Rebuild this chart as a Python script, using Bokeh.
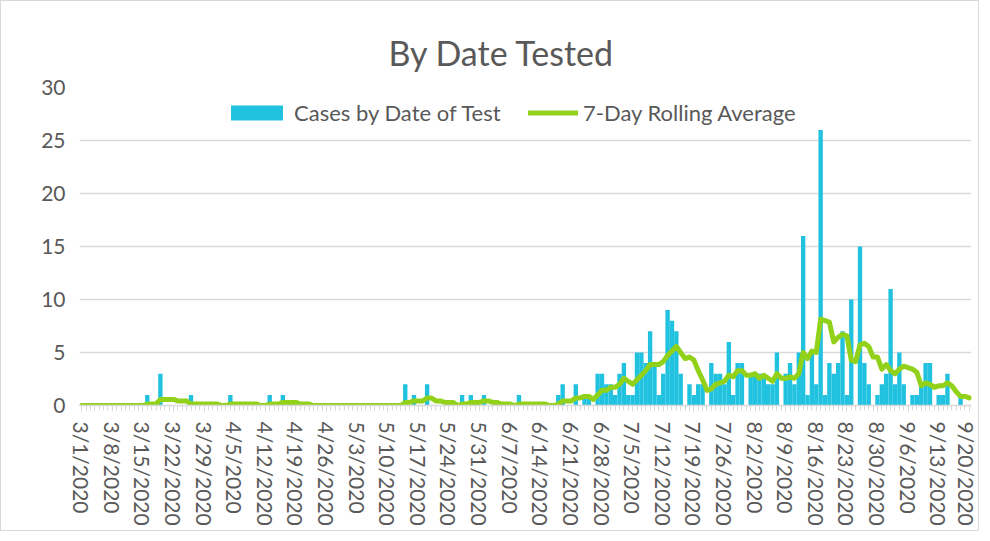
import pandas as pd
from bokeh.plotting import figure
from bokeh.models import ColumnDataSource, Range1d, FixedTicker, Legend, LegendItem
from bokeh.embed import file_html
from bokeh.resources import INLINE

# ---- data ----
dates = [f"{d.month}/{d.day}/{d.year}" for d in pd.date_range("2020-03-01", "2020-09-20")]

cases = [
    0, 0, 0, 0, 0, 0, 0,
    0, 0, 0, 0, 0, 0, 0,
    0, 1, 0, 0, 3, 0, 0,
    0, 0, 0, 0, 1, 0, 0,
    0, 0, 0, 0, 0, 0, 1,
    0, 0, 0, 0, 0, 0, 0,
    0, 1, 0, 0, 1, 0, 0,
    0, 0, 0, 0, 0, 0, 0,
    0, 0, 0, 0, 0, 0, 0,
    0, 0, 0, 0, 0, 0, 0,
    0, 0, 0, 0, 2, 0, 1,
    0, 0, 2, 0, 0, 0, 0,
    0, 0, 0, 1, 0, 1, 0,
    0, 1, 0, 0, 0, 0, 0,
    0, 0, 1, 0, 0, 0, 0,
    0, 0, 0, 0, 1, 2, 0,
    0, 2, 0, 1, 1, 0, 3,
    3, 2, 2, 1, 3, 4, 1,
    1, 5, 5, 4, 7, 4, 1,
    3, 9, 8, 7, 3, 0, 2,
    1, 2, 2, 0, 4, 3, 3,
    2, 6, 1, 4, 4, 0, 3,
    3, 3, 3, 2, 2, 5, 0,
    3, 4, 2, 5, 16, 1, 5,
    2, 26, 1, 4, 3, 4, 7,
    1, 10, 0, 15, 4, 2, 0,
    1, 2, 3, 11, 2, 5, 2,
    0, 1, 1, 2, 4, 4, 0,
    1, 1, 3, 0, 0, 1, 0,
    0,
]

rolling_avg = [
    0, 0, 0, 0, 0, 0, 0,
    0, 0, 0, 0, 0, 0, 0,
    0, 0.14, 0.14, 0.14, 0.57, 0.57, 0.57,
    0.57, 0.43, 0.43, 0.43, 0.14, 0.14, 0.14,
    0.14, 0.14, 0.14, 0.14, 0, 0, 0.14,
    0.14, 0.14, 0.14, 0.14, 0.14, 0.14, 0,
    0, 0.14, 0.14, 0.14, 0.29, 0.29, 0.29,
    0.29, 0.14, 0.14, 0.14, 0, 0, 0,
    0, 0, 0, 0, 0, 0, 0,
    0, 0, 0, 0, 0, 0, 0,
    0, 0, 0, 0, 0.29, 0.29, 0.43,
    0.43, 0.43, 0.71, 0.71, 0.43, 0.43, 0.29,
    0.29, 0.29, 0, 0.14, 0.14, 0.29, 0.29,
    0.29, 0.43, 0.43, 0.29, 0.29, 0.14, 0.14,
    0.14, 0, 0.14, 0.14, 0.14, 0.14, 0.14,
    0.14, 0.14, 0, 0, 0.14, 0.43, 0.43,
    0.43, 0.71, 0.71, 0.86, 0.86, 0.57, 1.0,
    1.43, 1.43, 1.71, 1.71, 2.0, 2.57, 2.29,
    2.0, 2.43, 2.86, 3.29, 3.86, 3.86, 3.86,
    4.14, 4.71, 5.14, 5.57, 5.0, 4.43, 4.57,
    4.29, 3.29, 2.43, 1.43, 1.57, 2.0, 2.14,
    2.29, 2.86, 2.71, 3.29, 3.29, 2.86, 2.86,
    3.0, 2.57, 2.86, 2.57, 2.29, 3.0, 2.57,
    2.57, 2.71, 2.57, 3.0, 5.0, 4.43, 5.14,
    5.0, 8.14, 8.0, 7.86, 6.0, 6.43, 6.71,
    6.57, 4.29, 4.14, 5.71, 5.86, 5.57, 4.57,
    4.57, 3.43, 3.86, 3.29, 3.0, 3.43, 3.71,
    3.57, 3.43, 3.14, 1.86, 2.14, 2.0, 1.71,
    1.86, 1.86, 2.14, 1.86, 1.29, 0.86, 0.86,
    0.71,
]

y_ticks = [0, 5, 10, 15, 20, 25, 30]
title_text = "By Date Tested"
bar_name = "Cases by Date of Test"
line_name = "7-Day Rolling Average"

# ---- styling ----
FONT = "Lato"
TEXT = "#595959"
GRID = "#d9d9d9"
BAR = "#21C2DF"
LINE = "#92D119"

day_idx = list(range(len(dates)))
week_idx = day_idx[::7]

src = ColumnDataSource(dict(i=day_idx, date=dates, cases=cases, avg=rolling_avg))

p = figure(
    x_range=Range1d(-0.5, len(dates) - 0.5),
    y_range=Range1d(0, 30),
    width=979, height=531,
    output_backend="svg", toolbar_location=None,
    min_border_left=78, min_border_right=9,
    min_border_top=86, min_border_bottom=127,
)
p.styles = {"border": "1px solid #d9d9d9"}
p.outline_line_color = None
p.background_fill_color = "white"
p.border_fill_color = "white"

r_bar = p.vbar(x="i", top="cases", width=1.0, source=src,
               fill_color=BAR, line_color=None)
r_line = p.line(x="i", y="avg", source=src, line_color=LINE,
                line_width=5, line_join="round", line_cap="round")

# title
p.title.text = title_text
p.title.align = "left"
p.title.offset = 309
p.title.standoff = 30
p.title.text_font = FONT
p.title.text_font_size = "34px"
p.title.text_font_style = "normal"
p.title.text_color = TEXT

# axes
p.yaxis.ticker = y_ticks
p.yaxis.axis_line_color = None
p.yaxis.major_tick_line_color = None
p.yaxis.minor_tick_line_color = None
p.yaxis.major_tick_out = 0
p.yaxis.major_tick_in = 0
p.yaxis.minor_tick_out = 0
p.yaxis.major_label_text_font = FONT
p.yaxis.major_label_text_font_size = "21px"
p.yaxis.major_label_text_color = TEXT
p.yaxis.major_label_standoff = 14

p.xaxis.ticker = FixedTicker(ticks=week_idx, minor_ticks=day_idx)
p.xaxis.major_label_overrides = {i: dates[i] for i in week_idx}
p.xaxis.major_label_orientation = "vertical"
p.xaxis.axis_line_color = GRID
p.xaxis.axis_line_width = 1.5
p.xaxis.major_tick_line_color = GRID
p.xaxis.minor_tick_line_color = GRID
p.xaxis.major_tick_out = 6
p.xaxis.major_tick_in = 0
p.xaxis.minor_tick_out = 5
p.xaxis.minor_tick_in = 0
p.xaxis.major_label_text_font = FONT
p.xaxis.major_label_text_font_size = "21px"
p.xaxis.major_label_text_color = TEXT
p.xaxis.major_label_standoff = 10

p.xgrid.grid_line_color = None
p.ygrid.grid_line_color = GRID
p.ygrid.grid_line_width = 1.5

legend_style = dict(
    orientation="horizontal", glyph_height=19, label_standoff=5,
    label_text_font=FONT, label_text_font_size="22px", label_text_color=TEXT,
    border_line_color=None, background_fill_alpha=0, margin=0, padding=6,
)
legend_bar = Legend(items=[LegendItem(label=bar_name, renderers=[r_bar])],
                    location=(145, 279), glyph_width=65, **legend_style)
legend_line = Legend(items=[LegendItem(label=line_name, renderers=[r_line])],
                     location=(449, 279), glyph_width=50, **legend_style)
p.add_layout(legend_bar)
p.add_layout(legend_line)

open("out.html", "w").write(file_html(p, INLINE))
